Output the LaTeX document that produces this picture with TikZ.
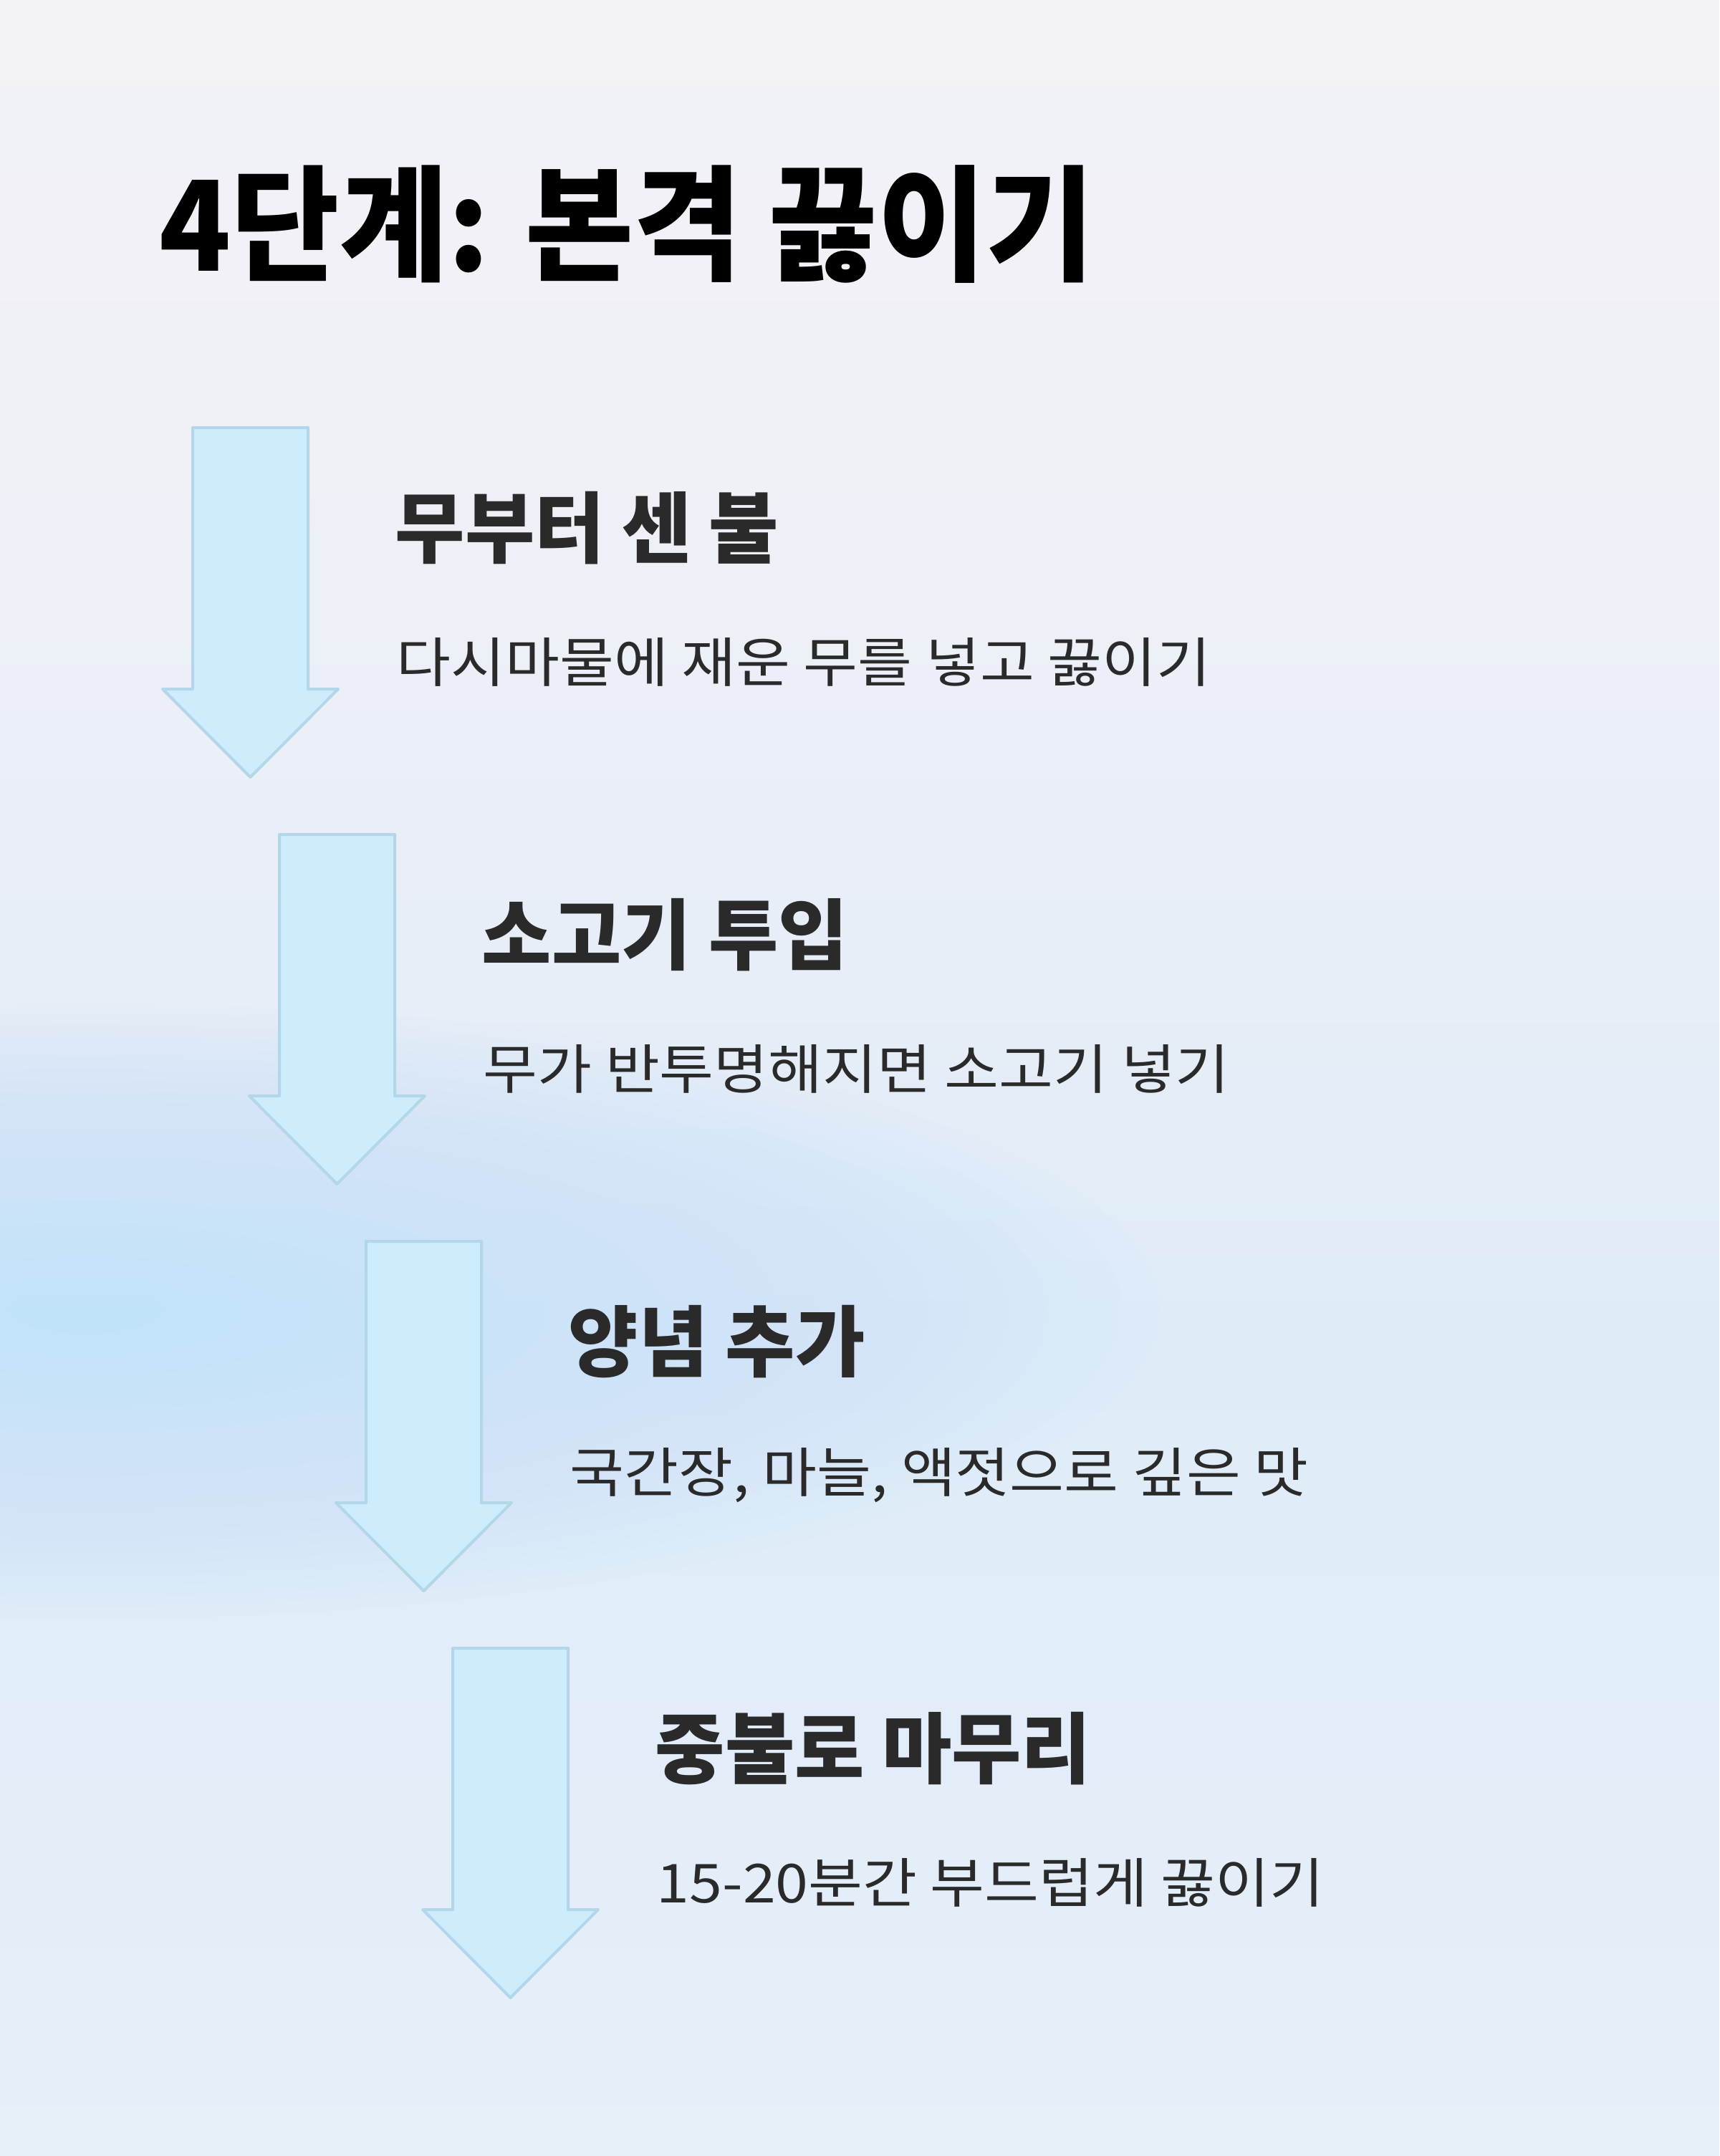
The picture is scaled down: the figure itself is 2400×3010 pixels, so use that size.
\documentclass[tikz,border=0pt]{standalone}
\usepackage{fontspec}
\newfontfamily\krtitle[FakeStretch=0.94]{Noto Sans CJK KR}
\newfontfamily\krhead[FakeStretch=0.98]{Noto Sans CJK KR}
\newfontfamily\krbody[FakeStretch=1.1]{Noto Sans CJK KR}
\definecolor{bgA}{HTML}{F2F2F7}
\definecolor{bgB}{HTML}{F0F1F7}
\definecolor{bgC}{HTML}{E8EEF7}
\definecolor{bgD}{HTML}{DFECF8}
\definecolor{bgE}{HTML}{E1EDF9}
\definecolor{bgF}{HTML}{E7EFF9}
\definecolor{blob}{HTML}{BBE3F8}
\definecolor{afill}{HTML}{CDEDFD}
\definecolor{astroke}{HTML}{B3D6E8}
\definecolor{txt}{HTML}{2A2A2A}
\newcommand\bgseg[4]{%
  \foreach \i in {0,...,29}{%
    \pgfmathsetmacro\pp{100-\i/29*100}%
    \pgfmathsetmacro\ya{#1+(#2-#1)/30*\i}%
    \pgfmathsetmacro\yb{#1+(#2-#1)/30*(\i+1)+1}%
    \fill[#3!\pp!#4] (0,\ya) rectangle (2400,\yb);
  }}
\begin{document}
\begin{tikzpicture}[x=0.25pt,y=-0.25pt,
  arrowbox/.style={fill=afill,draw=astroke,line width=1pt,line join=round},
  titletext/.style={inner sep=0pt,anchor=west,font=\krtitle\bfseries\fontsize{43.75pt}{50pt}\selectfont,text=black},
  headtext/.style={inner sep=0pt,anchor=west,font=\krhead\bfseries\fontsize{27pt}{32pt}\selectfont,text=txt},
  bodytext/.style={inner sep=0pt,anchor=west,font=\krbody\fontsize{18.75pt}{22pt}\selectfont,text=txt}]
\useasboundingbox (0,0) rectangle (2400,3010);
% background
\bgseg{0}{600}{bgA}{bgB}
\bgseg{600}{1300}{bgB}{bgC}
\bgseg{1300}{1850}{bgC}{bgD}
\bgseg{1850}{2300}{bgD}{bgE}
\bgseg{2300}{3011}{bgE}{bgF}
\foreach \k in {1,...,28}{%
  \pgfmathsetmacro\rx{1500/28*(29-\k)}%
  \pgfmathsetmacro\ry{430/28*(29-\k)}%
  \fill[blob,opacity=0.032] (120,1830) ellipse [x radius=\rx, y radius=\ry];
}
% arrows
\foreach \k in {0,1,2,3}{%
  \pgfmathsetmacro\dx{121*\k}%
  \pgfmathsetmacro\dy{568*\k}%
  \begin{scope}[shift={(\dx,\dy)}]
    \draw[arrowbox] (269,597) -- (430,597) -- (430,962) -- (472,962) -- (349.5,1085) -- (227,962) -- (269,962) -- cycle;
  \end{scope}
}
% texts
\node[titletext] (title) at (222,313) {4단계: 본격 끓이기};
\node[headtext] (h1) at (551,737) {무부터 센 불};
\node[bodytext] (b1) at (553,924) {다시마물에 재운 무를 넣고 끓이기};
\node[headtext] (h2) at (672,1305) {소고기 투입};
\node[bodytext] (b2) at (674,1492) {무가 반투명해지면 소고기 넣기};
\node[headtext] (h3) at (793,1873) {양념 추가};
\node[bodytext] (b3) at (795,2060) {국간장, 마늘, 액젓으로 깊은 맛};
\node[headtext] (h4) at (914,2441) {중불로 마무리};
\node[bodytext] (b4) at (916,2628) {15-20분간 부드럽게 끓이기};
\end{tikzpicture}
\end{document}
